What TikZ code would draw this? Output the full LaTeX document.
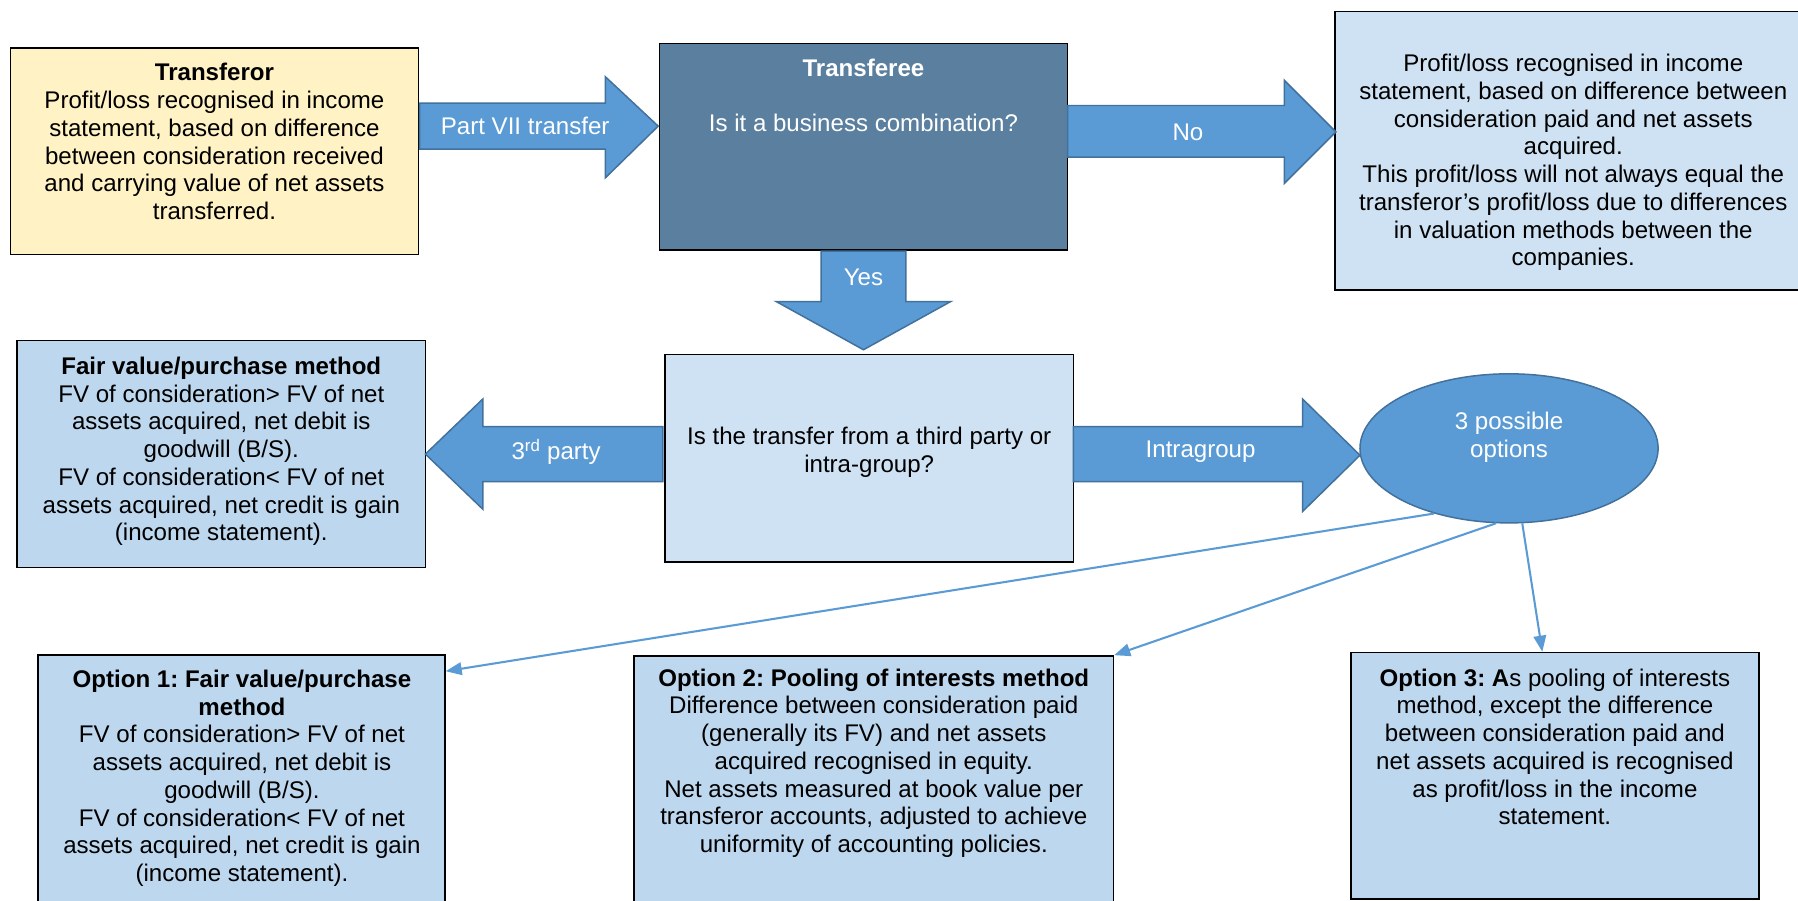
\documentclass[tikz,border=0pt]{standalone}
\usepackage{fontspec}
\setmainfont{Liberation Sans}
\usetikzlibrary{shapes.geometric,arrows.meta}
\definecolor{arrblue}{HTML}{5B9BD5}
\definecolor{arredge}{HTML}{41719C}
\definecolor{slate}{HTML}{5B7F9E}
\definecolor{paleblue}{HTML}{CFE2F3}
\definecolor{midblue}{HTML}{BDD7EE}
\definecolor{paleyellow}{HTML}{FFF2C4}
\frenchspacing
\begin{document}
\begin{tikzpicture}[x=1pt,y=-1pt,
  box/.style={draw=black, line width=1.3pt, inner sep=0pt},
  txt/.style={align=center, inner sep=0pt, anchor=north, font=\fontsize{21}{24.2}\selectfont\frenchspacing},
  wtxt/.style={txt, text=white},
  lbl/.style={inner sep=0pt, text=white, font=\fontsize{21}{24.2}\selectfont},
  blockarrow/.style={fill=arrblue, draw=arredge, line width=1.3pt, line join=miter},
  conn/.style={draw=arrblue, line width=1.8pt, -{Triangle[length=14pt,width=11pt]}}]
\clip (0,0) rectangle (1568,785);
\fill[white] (0,0) rectangle (1568,785);

% boxes
\node[box, fill=paleyellow, minimum width=356pt, minimum height=180pt] (transferor) at (187,132) {};
\node[box, fill=slate, minimum width=356pt, minimum height=180pt] (transferee) at (753,128) {};
\node[box, fill=paleblue, minimum width=416pt, minimum height=243pt] (noresult) at (1372,131.5) {};
\node[box, fill=paleblue, minimum width=356pt, minimum height=181pt] (question) at (758,399.5) {};
\node[box, fill=midblue, minimum width=356pt, minimum height=198pt] (fairvalue) at (193,396) {};
\node[box, fill=midblue, minimum width=355pt, minimum height=249pt] (opt1) at (210.5,695.5) {};
\node[box, fill=midblue, minimum width=418pt, minimum height=248pt] (opt2) at (762,696) {};
\node[box, fill=midblue, minimum width=356pt, minimum height=215pt] (opt3) at (1356,676.5) {};
\node[ellipse, fill=arrblue, draw=arredge, line width=1.3pt, minimum width=260pt, minimum height=130pt, inner sep=0pt] (ell) at (1316,391) {};

% block arrows
\path[blockarrow] (366,90) -- (528,90) -- (528,67) -- (574,110) -- (528,155) -- (528,130) -- (366,130) -- cycle;
\path[blockarrow] (931,92) -- (1120,92) -- (1120,70) -- (1165,115) -- (1120,160) -- (1120,137) -- (931,137) -- cycle;
\path[blockarrow] (716,219) -- (790,219) -- (790,263) -- (829,263) -- (753,305) -- (677,263) -- (716,263) -- cycle;
\path[blockarrow] (578,372) -- (421,372) -- (421,348) -- (371,396) -- (421,444) -- (421,420) -- (578,420) -- cycle;
\path[blockarrow] (936,372) -- (1136,372) -- (1136,348) -- (1186,397) -- (1136,446) -- (1136,420) -- (936,420) -- cycle;

\node[lbl] (lpart) at (458,110) {Part VII transfer};
\node[lbl] (lno) at (1036,115) {No};
\node[lbl] (lyes) at (753,242) {Yes};
\node[lbl] (lthird) at (485,394) {3\textsuperscript{rd} party};
\node[lbl] (lintra) at (1047,394) {Intragroup};

% texts
\node[txt] (ttransferor) at (187,55) {\textbf{Transferor}\\Profit/loss recognised in income\\statement, based on difference\\between consideration received\\and carrying value of net assets\\transferred.};
\node[wtxt] (ttransferee) at (753,51) {\textbf{Transferee}\\[24.2pt]Is it a business combination?};
\node[txt] (tnoresult) at (1372,47) {Profit/loss recognised in income\\statement, based on difference between\\consideration paid and net assets\\acquired.\\This profit/loss will not always equal the\\transferor’s profit/loss due to differences\\in valuation methods between the\\companies.};
\node[txt] (tquestion) at (758,372) {Is the transfer from a third party or\\intra-group?};
\node[txt] (tfair) at (193,311) {\textbf{Fair value/purchase method}\\FV of consideration> FV of net\\assets acquired, net debit is\\goodwill (B/S).\\FV of consideration< FV of net\\assets acquired, net credit is gain\\(income statement).};
\node[wtxt] (tell) at (1316,359) {3 possible\\options};
\node[txt] (topt1) at (211,584) {\textbf{Option 1: Fair value/purchase}\\\textbf{method}\\FV of consideration> FV of net\\assets acquired, net debit is\\goodwill (B/S).\\FV of consideration< FV of net\\assets acquired, net credit is gain\\(income statement).};
\node[txt] (topt2) at (762,583) {\textbf{Option 2: Pooling of interests method}\\Difference between consideration paid\\(generally its FV) and net assets\\acquired recognised in equity.\\Net assets measured at book value per\\transferor accounts, adjusted to achieve\\uniformity of accounting policies.};
\node[txt] (topt3) at (1356,583) {\textbf{Option 3: A}s pooling of interests\\method, except the difference\\between consideration paid and\\net assets acquired is recognised\\as profit/loss in the income\\statement.};

% connectors
\draw[conn] (ell.221) -- ([yshift=-15pt]opt1.north east);
\draw[conn] (ell.260) -- (opt2.north east);
\draw[conn] (ell.280) -- ([xshift=-11pt]opt3.north);
\end{tikzpicture}
\end{document}
